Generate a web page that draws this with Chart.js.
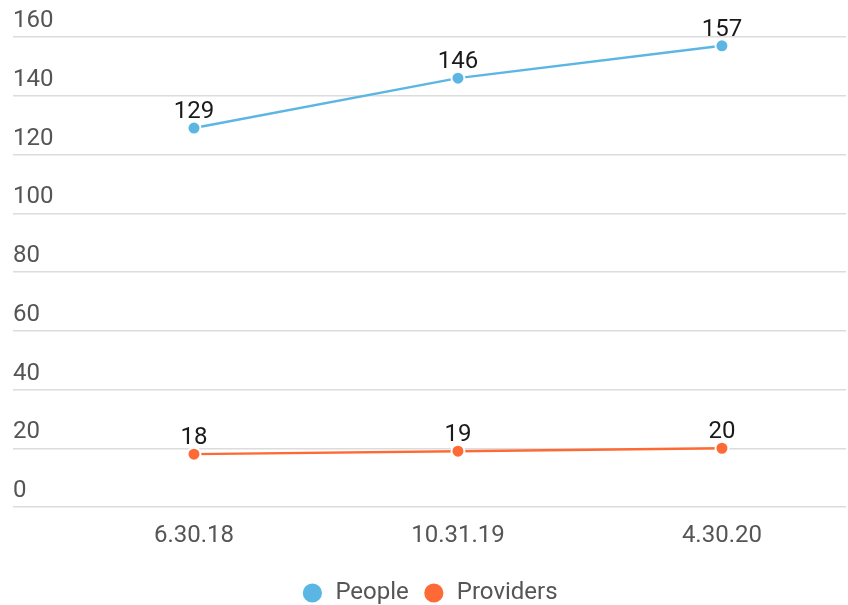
<!DOCTYPE html>
<html><head><meta charset="utf-8">
<script src="https://cdn.jsdelivr.net/npm/chart.js@4"></script>
<style>html,body{margin:0;padding:0;background:#fff}#wrap{width:848px;height:605px}</style>
</head><body><div id="wrap"><canvas id="c" width="848" height="605"></canvas></div>
<script>
const categories = ["6.30.18", "10.31.19", "4.30.20"];
const people = [129, 146, 157];
const providers = [18, 19, 20];
const yTicks = [0, 20, 40, 60, 80, 100, 120, 140, 160];

const FONT = "Roboto, 'Noto Sans', sans-serif";

const valueLabels = {
  id: 'valueLabels',
  afterDatasetsDraw(chart) {
    const ctx = chart.ctx;
    ctx.save();
    ctx.font = "24px " + FONT;
    ctx.fillStyle = '#1a1a1a';
    ctx.textAlign = 'center';
    ctx.textBaseline = 'middle';
    chart.data.datasets.forEach((ds, di) => {
      chart.getDatasetMeta(di).data.forEach((pt, i) => {
        ctx.fillText(String(ds.data[i].y), pt.x, pt.y - 16);
      });
    });
    ctx.restore();
  }
};

new Chart(document.getElementById('c'), {
  type: 'line',
  data: {
    datasets: [
      { label: 'People', data: people.map((v, i) => ({x: i, y: v})),
        borderColor: '#5cb6e4', backgroundColor: '#5cb6e4', borderWidth: 2.5,
        pointRadius: 6.5, pointBorderColor: '#ffffff', pointBorderWidth: 2, pointBackgroundColor: '#5cb6e4' },
      { label: 'Providers', data: providers.map((v, i) => ({x: i, y: v})),
        borderColor: '#fe6a35', backgroundColor: '#fe6a35', borderWidth: 2.5,
        pointRadius: 6.5, pointBorderColor: '#ffffff', pointBorderWidth: 2, pointBackgroundColor: '#fe6a35' }
    ]
  },
  options: {
    responsive: false,
    animation: false,
    layout: { autoPadding: false, padding: { left: 13, right: 2, top: 37, bottom: -10 } },
    plugins: {
      tooltip: { enabled: false },
      legend: {
        position: 'bottom',
        labels: { usePointStyle: true, pointStyle: 'circle', boxWidth: 22, boxHeight: 15,
          color: '#555', font: { family: FONT, size: 24 }, padding: 14 }
      }
    },
    scales: {
      x: {
        type: 'linear', min: -0.5, max: 2.47,
        afterBuildTicks: s => { s.ticks = categories.map((c, i) => ({ value: i })); },
        afterFit: s => { s.height = 60; },
        ticks: { callback: (v) => categories[v], color: '#555', font: { family: FONT, size: 24 }, padding: 7, autoSkip: false, maxRotation: 0 },
        grid: { display: false }, border: { display: false }
      },
      y: {
        min: 0, max: 160,
        afterBuildTicks: s => { s.ticks = yTicks.map(v => ({ value: v })); },
        afterFit: s => { s.width = 49; },
        ticks: { crossAlign: 'far', labelOffset: -16, color: '#555', font: { family: FONT, size: 24 }, padding: 0 },
        grid: { color: '#dcdcdc', lineWidth: 1.5, tickLength: 49 },
        border: { display: false }
      }
    }
  },
  plugins: [valueLabels]
});
</script></body></html>
